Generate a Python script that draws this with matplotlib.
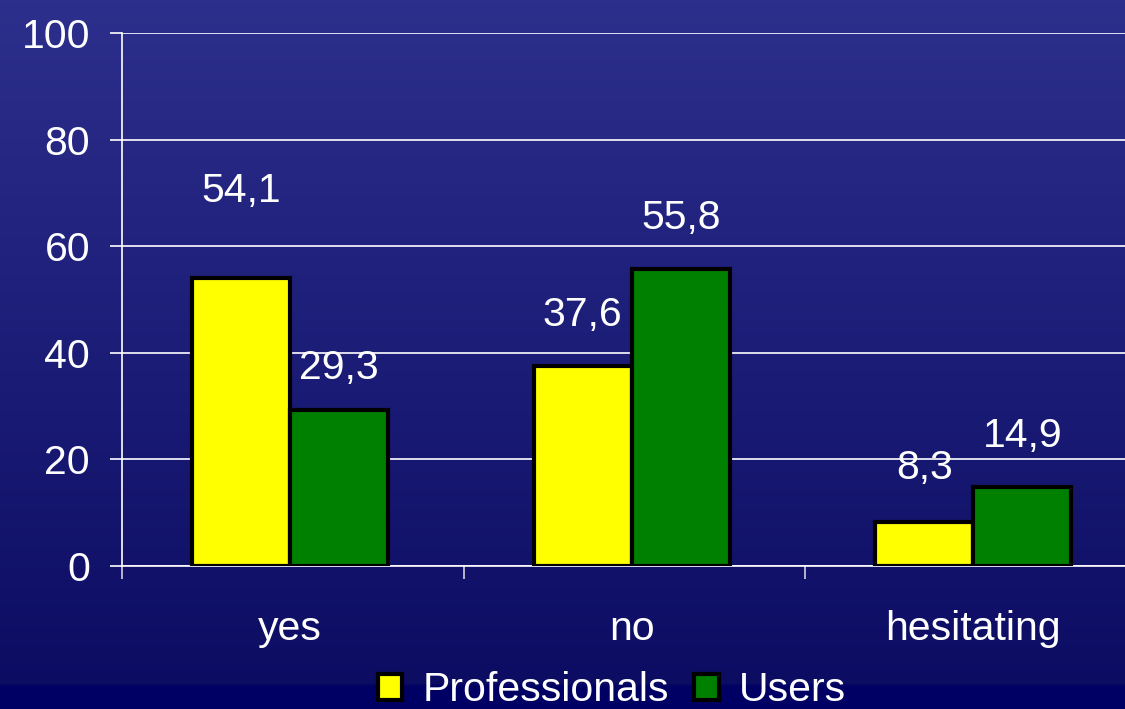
import numpy as np
import matplotlib
matplotlib.use("Agg")
import matplotlib.pyplot as plt
from matplotlib.colors import LinearSegmentedColormap

categories = ["yes", "no", "hesitating"]
professionals = [54.1, 37.6, 8.3]
users = [29.3, 55.8, 14.9]
series_names = ["Professionals", "Users"]
yticks = [0, 20, 40, 60, 80, 100]

# label offsets above bar top (data units), as in the original slide
prof_offsets = [16.2, 9.5, 10.0]
user_offsets = [7.8, 9.5, 9.5]

plt.rcParams['font.family'] = ['Liberation Sans', 'DejaVu Sans']
FS = 29.5

fig = plt.figure(figsize=(11.25, 7.09), dpi=100)

# gradient background
bg = fig.add_axes([0, 0, 1, 1], zorder=0)
cmap = LinearSegmentedColormap.from_list(
    "bg", [(0.0, "#2d2f8c"), (0.968, "#0c0c63"), (0.969, "#000064"), (1.0, "#000064")])
grad = np.linspace(0, 1, 709).reshape(-1, 1)
bg.imshow(grad, cmap=cmap, aspect="auto", extent=[0, 1, 0, 1], origin="upper",
          interpolation="nearest")
bg.set_axis_off()

W, H = 1125, 709
left, right = 122, 1147
bottom, top = 566, 33
ax = fig.add_axes([left / W, 1 - bottom / H, (right - left) / W, (bottom - top) / H], zorder=1)
ax.patch.set_alpha(0)

x = np.arange(len(categories)) - 0.008
bw = 0.287
b1 = ax.bar(x - bw / 2, professionals, bw, color="#ffff00", edgecolor="black",
            linewidth=3, label=series_names[0], zorder=3)
b2 = ax.bar(x + bw / 2, users, bw, color="#008000", edgecolor="black",
            linewidth=3, label=series_names[1], zorder=3)

for xi, v, off in zip(x, professionals, prof_offsets):
    ax.text(xi - bw / 2, v + off, f"{v}".replace(".", ","),
            ha="center", va="center", color="white", fontsize=FS, zorder=4)
for xi, v, off in zip(x, users, user_offsets):
    ax.text(xi + bw / 2, v + off, f"{v}".replace(".", ","),
            ha="center", va="center", color="white", fontsize=FS, zorder=4)

ax.set_xlim(-0.5, len(categories) - 0.5)
ax.set_ylim(0, 100)
ax.set_yticks(yticks)
ax.yaxis.grid(True, color="white", linewidth=1.2)
ax.set_axisbelow(True)
ax.tick_params(axis="y", colors="white", labelsize=FS, length=9, width=1.2,
               pad=14, labelcolor="white")
ax.set_xticks(np.arange(len(categories) + 1) - 0.5, minor=True)
ax.set_xticks(x)
ax.set_xticklabels(categories)
ax.tick_params(axis="x", which="major", length=0, labelsize=FS, labelcolor="white", pad=32)
ax.tick_params(axis="x", which="minor", length=9, width=1.2, color="#d0d0e0", direction="out")
for s in ["top", "right"]:
    ax.spines[s].set_visible(False)
ax.spines["left"].set_color("white")
ax.spines["left"].set_linewidth(1.2)
ax.spines["bottom"].set_color("white")
ax.spines["bottom"].set_linewidth(1.2)

leg = fig.legend(handles=[b1, b2], labels=series_names, loc="center",
                 bbox_to_anchor=(612 / W, 1 - 690 / H), ncol=2, frameon=False,
                 fontsize=FS, labelcolor="white", handlelength=0.6, handleheight=0.6,
                 handletextpad=0.5, columnspacing=0.6, borderpad=0)

fig.savefig("out.png", dpi=100)
